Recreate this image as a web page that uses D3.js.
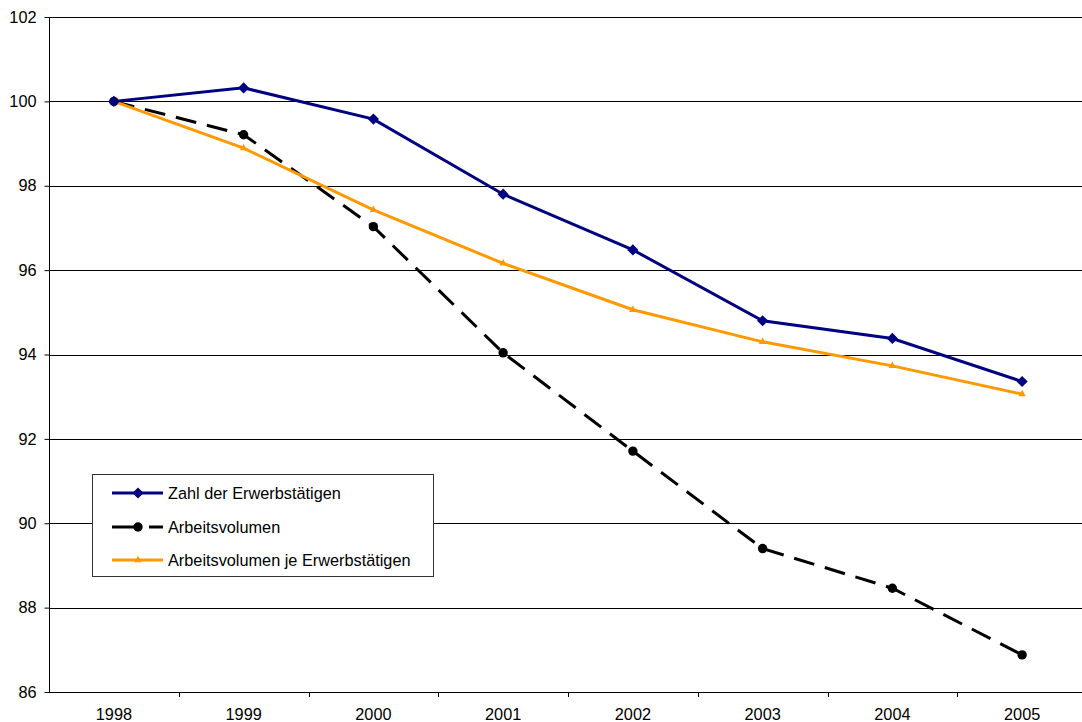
<!DOCTYPE html>
<html>
<head>
<meta charset="utf-8">
<script src="https://cdn.jsdelivr.net/npm/d3@7"></script>
<style>
  html, body { margin: 0; padding: 0; background: #fff; }
  svg { display: block; }
  text { font-family: "Liberation Sans", Arial, sans-serif; }
</style>
</head>
<body>
<script>
const years = ["1998", "1999", "2000", "2001", "2002", "2003", "2004", "2005"];
const erwerbstaetige = [100, 100.32, 99.58, 97.80, 96.48, 94.80, 94.38, 93.36];
const arbeitsvolumen = [100, 99.21, 97.03, 94.04, 91.71, 89.40, 88.46, 86.88];
const volumenJe = [100, 98.89, 97.43, 96.16, 95.06, 94.30, 93.73, 93.06];
const yTicks = [86, 88, 90, 92, 94, 96, 98, 100, 102];
const seriesNames = ["Zahl der Erwerbstätigen", "Arbeitsvolumen", "Arbeitsvolumen je Erwerbstätigen"];

const W = 1082, H = 722;
const plotLeft = 49, plotTop = 17, plotBottom = 692, plotRight = 1087;
const FS = 16.3;

const svg = d3.select("body").append("svg").attr("width", W).attr("height", H);

const x = d3.scaleBand().domain(years).range([plotLeft, plotRight]).padding(0);
const y = d3.scaleLinear().domain([86, 102]).range([plotBottom, plotTop]);
const cx = d => x(d) + x.bandwidth() / 2;

// gridlines
svg.append("g").selectAll("line").data(yTicks.filter(t => t > 86)).join("line")
  .attr("x1", plotLeft).attr("x2", W).attr("y1", d => Math.round(y(d)) + 0.5).attr("y2", d => Math.round(y(d)) + 0.5)
  .attr("stroke", "#000").attr("stroke-width", 1);

// y axis
const yAxis = svg.append("g").attr("transform", `translate(${plotLeft + 0.5},0)`)
  .call(d3.axisLeft(y).tickValues(yTicks).tickSize(5).tickPadding(8).tickFormat(d3.format("d")));
yAxis.select(".domain").attr("stroke", "#000").attr("d", `M0,${plotTop}V${plotBottom}`);
yAxis.selectAll(".tick line").attr("stroke", "#000");
yAxis.selectAll("text").attr("font-size", FS).attr("fill", "#000").attr("font-family", "Liberation Sans, Arial, sans-serif");

// x axis
const xAxis = svg.append("g").attr("transform", `translate(0,${Math.round(y(86)) + 0.5})`)
  .call(d3.axisBottom(x).tickSize(0).tickPadding(16));
xAxis.select(".domain").attr("stroke", "#000").attr("d", `M${plotLeft},0H${W}`);
xAxis.selectAll("text").attr("font-size", FS).attr("fill", "#000").attr("font-family", "Liberation Sans, Arial, sans-serif");
svg.append("g").selectAll("line").data(years.slice(1)).join("line")
  .attr("x1", d => Math.round(x(d)) + 0.5).attr("x2", d => Math.round(x(d)) + 0.5)
  .attr("y1", Math.round(y(86))).attr("y2", Math.round(y(86)) + 5)
  .attr("stroke", "#000");

const line = d3.line().x((d, i) => cx(years[i])).y(d => y(d));

// series
const blue = "#000080", orange = "#FF9900", black = "#000";

svg.append("path").datum(arbeitsvolumen).attr("d", line).attr("fill", "none")
  .attr("stroke", black).attr("stroke-width", 3).attr("stroke-dasharray", "21,11");
svg.append("path").datum(volumenJe).attr("d", line).attr("fill", "none")
  .attr("stroke", orange).attr("stroke-width", 3);
svg.append("path").datum(erwerbstaetige).attr("d", line).attr("fill", "none")
  .attr("stroke", blue).attr("stroke-width", 3);

const diamond = d3.symbol().type(d3.symbolDiamond2).size(80);
const triangle = d3.symbol().type(d3.symbolTriangle).size(24);

svg.append("g").selectAll("circle").data(arbeitsvolumen).join("circle")
  .attr("cx", (d, i) => cx(years[i])).attr("cy", d => y(d)).attr("r", 4.7).attr("fill", black);
svg.append("g").selectAll("path").data(volumenJe).join("path")
  .attr("d", triangle).attr("transform", (d, i) => `translate(${cx(years[i])},${y(d)})`).attr("fill", orange);
svg.append("g").selectAll("path").data(erwerbstaetige).join("path")
  .attr("d", diamond).attr("transform", (d, i) => `translate(${cx(years[i])},${y(d)})`).attr("fill", blue);

// legend
const lg = svg.append("g");
lg.append("rect").attr("x", 92.5).attr("y", 474.5).attr("width", 341).attr("height", 102)
  .attr("fill", "#fff").attr("stroke", "#333").attr("stroke-width", 1);
const rows = [493, 527, 560];
const lx1 = 112, lx2 = 163, mx = 138;
lg.append("line").attr("x1", lx1).attr("x2", lx2).attr("y1", rows[0]).attr("y2", rows[0]).attr("stroke", blue).attr("stroke-width", 3);
lg.append("path").attr("d", diamond).attr("transform", `translate(${mx},${rows[0]})`).attr("fill", blue);
lg.append("line").attr("x1", lx1).attr("x2", lx2).attr("y1", rows[1]).attr("y2", rows[1]).attr("stroke", black).attr("stroke-width", 3).attr("stroke-dasharray", "28,9");
lg.append("circle").attr("cx", mx).attr("cy", rows[1]).attr("r", 4.7).attr("fill", black);
lg.append("line").attr("x1", lx1).attr("x2", lx2).attr("y1", rows[2]).attr("y2", rows[2]).attr("stroke", orange).attr("stroke-width", 3);
lg.append("path").attr("d", triangle).attr("transform", `translate(${mx},${rows[2]})`).attr("fill", orange);

lg.selectAll("text.lbl").data(seriesNames).join("text").attr("class", "lbl")
  .attr("x", 168).attr("y", (d, i) => rows[i]).attr("dy", "0.35em")
  .attr("font-size", FS).attr("fill", "#000").text(d => d);
</script>
</body>
</html>
